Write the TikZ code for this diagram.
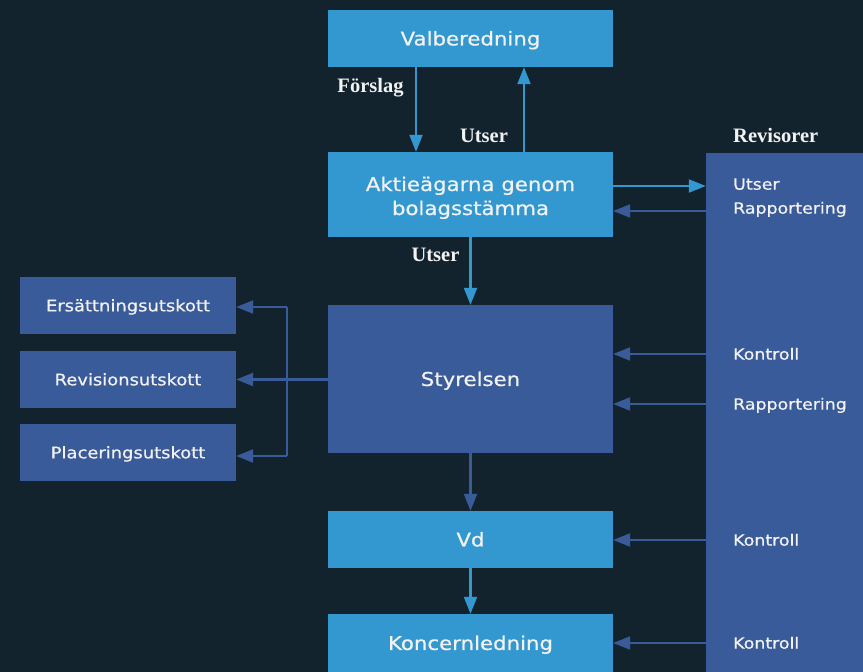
\documentclass[tikz,border=0pt]{standalone}
\usepackage{fontspec}
\usetikzlibrary{arrows.meta}
\newfontfamily\boxfont[FakeStretch=1.12,FakeBold=0.6]{DejaVu Sans}
\newfontfamily\lblfont{Liberation Serif}
\definecolor{bg}{HTML}{12232D}
\definecolor{lb}{HTML}{3398D0}
\definecolor{db}{HTML}{3A5B9A}
\definecolor{tx}{HTML}{F2F2F2}
\begin{document}
\begin{tikzpicture}[x=1pt,y=-1pt,
  lbox/.style={fill=lb,draw=none,inner sep=0pt,text=tx,font=\boxfont\fontsize{19}{24}\selectfont,text height=13.9pt,text depth=0pt},
  dbox/.style={fill=db,draw=none,inner sep=0pt,text=tx,font=\boxfont\fontsize{19}{24}\selectfont,text height=13.9pt,text depth=0pt},
  cbox/.style={dbox,minimum width=216pt,minimum height=57pt,font=\boxfont\fontsize{16}{20}\selectfont,text height=11.7pt},
  rtext/.style={anchor=west,inner sep=0pt,text=tx,font=\boxfont\fontsize{15.5}{20}\selectfont,text height=11.3pt,text depth=0pt},
  slabel/.style={inner sep=0pt,text=tx,font=\lblfont\bfseries\fontsize{20.5}{24}\selectfont,text height=13.6pt,text depth=0pt},
  la/.style={draw=lb,line width=2.2pt,-{Triangle[length=17pt,width=13pt]}},
  da/.style={draw=db,line width=2.2pt,-{Triangle[length=17pt,width=13pt]}},
  dl/.style={draw=db,line width=2.2pt}]
\fill[bg] (0,0) rectangle (863,672);
\useasboundingbox (0,0) rectangle (863,672);
% main column
\node[lbox,minimum width=285pt,minimum height=57pt] (valb) at (470.5,38.5) {Valberedning};
\node[lbox,minimum width=285pt,minimum height=85pt] (akt) at (470.5,194.5) {};
\node[inner sep=0pt,text=tx,font=\boxfont\fontsize{19}{24}\selectfont,anchor=base] (akt1) at (470.5,191) {Aktieägarna genom};
\node[inner sep=0pt,text=tx,font=\boxfont\fontsize{19}{24}\selectfont,anchor=base] (akt2) at (470.5,215) {bolagsstämma};
\node[dbox,minimum width=285pt,minimum height=148pt] (styr) at (470.5,379) {Styrelsen};
\node[lbox,minimum width=285pt,minimum height=57pt] (vd) at (470.5,539.5) {Vd};
\node[lbox,minimum width=285pt,minimum height=58pt] (kl) at (470.5,643) {Koncernledning};
% revisorer
\node[dbox,minimum width=157pt,minimum height=519pt] (rev) at (784.5,412.5) {};
\node[slabel,anchor=west] (revl) at (733,136) {Revisorer};
\node[rtext] (ru) at (733,184) {Utser};
\node[rtext] (rr) at (733,208) {Rapportering};
\node[rtext] (k1) at (733,354) {Kontroll};
\node[rtext] (r2) at (733,404) {Rapportering};
\node[rtext] (k2) at (733,540) {Kontroll};
\node[rtext] (k3) at (733,643) {Kontroll};
% committees
\node[cbox] (ek) at (128,305.5) {Ersättningsutskott};
\node[cbox] (rk) at (128,379.5) {Revisionsutskott};
\node[cbox] (pk) at (128,452.5) {Placeringsutskott};
% labels
\node[slabel] (lf) at (370.5,86) {Förslag};
\node[slabel] (lu1) at (484,136) {Utser};
\node[slabel] (lu2) at (435.5,255) {Utser};
% helper coordinates
\coordinate (xf) at (416,0);
\coordinate (xu) at (524,0);
\coordinate (xm) at (470.5,0);
\coordinate (bx) at (287,0);
\coordinate (ya) at (0,186);
\coordinate (yb) at (0,211);
\coordinate (ye) at (0,307);
\coordinate (yp) at (0,456);
% connectors
\draw[la] (valb.south -| xf) -- (akt.north -| xf);
\draw[la] (akt.north -| xu) -- (valb.south -| xu);
\draw[la] (akt.east |- ya) -- (rev.west |- ya);
\draw[da] (rev.west |- yb) -- (akt.east |- yb);
\draw[la] (akt.south -| xm) -- (styr.north -| xm);
\draw[da] (rev.west |- k1.west) -- (styr.east |- k1.west);
\draw[da] (rev.west |- r2.west) -- (styr.east |- r2.west);
\draw[da] (styr.south -| xm) -- (vd.north -| xm);
\draw[da] (rev.west |- k2.west) -- (vd.east |- k2.west);
\draw[la] (vd.south -| xm) -- (kl.north -| xm);
\draw[da] (rev.west |- k3.west) -- (kl.east |- k3.west);
% committees bracket
\draw[da] (styr.west |- rk.east) -- (rk.east);
\draw[dl] (bx |- ye) -- (bx |- yp);
\draw[da] (bx |- ye) -- (ek.east |- ye);
\draw[da] (bx |- yp) -- (pk.east |- yp);
\end{tikzpicture}
\end{document}
